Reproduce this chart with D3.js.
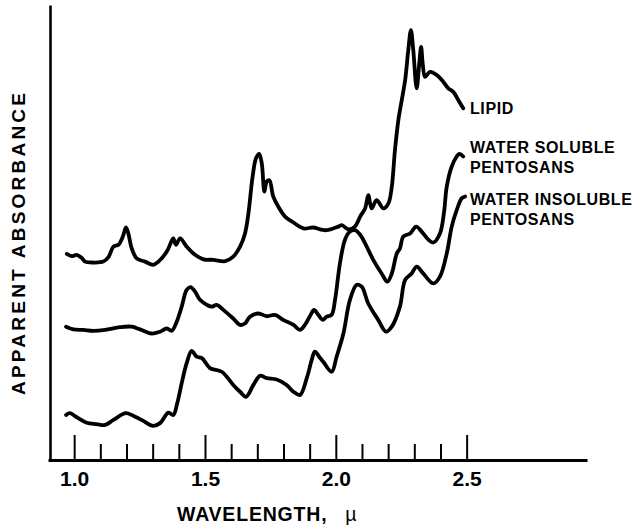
<!DOCTYPE html>
<html lang="en">
  <head>
    <meta charset="utf-8" />
    <title>Apparent absorbance</title>
    <style>
     body {
       margin: 0;
       background: #fff;
       font-family: "Liberation Sans", Arial, sans-serif;
     }
     .axis path, .axis line {
       stroke: #000;
     }
     .curve {
       fill: none;
       stroke: #000;
       stroke-width: 3.8;
       stroke-linejoin: round;
       stroke-linecap: round;
     }
     .lbl {
       font-weight: bold;
       fill: #000;
     }
    </style>
  </head>
  <body>
    <div id="chart"></div>

    <script src="https://d3js.org/d3.v7.min.js"></script>
    <script>

     // wavelength (micron) for each series, then apparent absorbance (arbitrary units)
     var lipid_w = [0.972, 0.991, 1.010, 1.029, 1.042, 1.073, 1.111, 1.131, 1.150, 1.169, 1.186, 1.198, 1.207, 1.220, 1.239, 1.271, 1.302, 1.322, 1.354, 1.373, 1.379, 1.389, 1.405, 1.430, 1.462, 1.494, 1.532, 1.577, 1.608, 1.634, 1.653, 1.666, 1.682, 1.695, 1.707, 1.717, 1.727, 1.736, 1.746, 1.761, 1.780, 1.806, 1.838, 1.876, 1.914, 1.940, 1.965, 2.010, 2.023, 2.048, 2.073, 2.093, 2.112, 2.124, 2.137, 2.156, 2.182, 2.201, 2.214, 2.226, 2.239, 2.252, 2.265, 2.277, 2.287, 2.296, 2.309, 2.319, 2.326, 2.332, 2.341, 2.360, 2.386, 2.411, 2.430, 2.449, 2.468, 2.487];
     var lipid_a = [0.453, 0.448, 0.451, 0.444, 0.436, 0.434, 0.436, 0.446, 0.469, 0.473, 0.491, 0.511, 0.498, 0.465, 0.443, 0.436, 0.429, 0.436, 0.458, 0.482, 0.487, 0.473, 0.487, 0.469, 0.451, 0.441, 0.440, 0.437, 0.447, 0.469, 0.498, 0.542, 0.623, 0.663, 0.673, 0.652, 0.590, 0.612, 0.615, 0.579, 0.557, 0.535, 0.522, 0.509, 0.511, 0.507, 0.505, 0.513, 0.516, 0.507, 0.513, 0.535, 0.553, 0.582, 0.553, 0.571, 0.553, 0.564, 0.601, 0.681, 0.747, 0.791, 0.835, 0.901, 0.945, 0.901, 0.817, 0.872, 0.908, 0.872, 0.842, 0.853, 0.846, 0.831, 0.817, 0.809, 0.791, 0.773];

     var soluble_w = [0.969, 0.997, 1.035, 1.073, 1.118, 1.175, 1.220, 1.252, 1.296, 1.328, 1.354, 1.373, 1.392, 1.411, 1.430, 1.445, 1.462, 1.481, 1.507, 1.526, 1.545, 1.570, 1.608, 1.634, 1.653, 1.672, 1.704, 1.736, 1.768, 1.799, 1.838, 1.863, 1.882, 1.901, 1.917, 1.933, 1.950, 1.965, 1.984, 1.997, 2.016, 2.035, 2.054, 2.073, 2.093, 2.118, 2.143, 2.175, 2.197, 2.214, 2.233, 2.245, 2.258, 2.284, 2.307, 2.328, 2.354, 2.373, 2.398, 2.413, 2.424, 2.443, 2.462, 2.472, 2.487];
     var soluble_a = [0.293, 0.287, 0.286, 0.284, 0.286, 0.292, 0.293, 0.287, 0.278, 0.282, 0.289, 0.284, 0.304, 0.337, 0.374, 0.380, 0.370, 0.352, 0.341, 0.337, 0.341, 0.330, 0.311, 0.297, 0.300, 0.315, 0.322, 0.316, 0.319, 0.308, 0.297, 0.286, 0.297, 0.316, 0.330, 0.319, 0.308, 0.315, 0.319, 0.352, 0.433, 0.484, 0.502, 0.505, 0.495, 0.469, 0.440, 0.410, 0.392, 0.410, 0.454, 0.465, 0.491, 0.498, 0.513, 0.502, 0.484, 0.478, 0.498, 0.542, 0.601, 0.645, 0.667, 0.673, 0.667];

     var insoluble_w = [0.969, 0.984, 1.010, 1.048, 1.086, 1.118, 1.150, 1.198, 1.233, 1.264, 1.302, 1.328, 1.360, 1.379, 1.394, 1.411, 1.430, 1.449, 1.468, 1.488, 1.519, 1.564, 1.608, 1.634, 1.657, 1.685, 1.710, 1.736, 1.774, 1.812, 1.838, 1.863, 1.889, 1.908, 1.920, 1.940, 1.952, 1.984, 2.003, 2.029, 2.054, 2.080, 2.099, 2.124, 2.162, 2.192, 2.214, 2.245, 2.265, 2.290, 2.309, 2.334, 2.373, 2.398, 2.424, 2.443, 2.462, 2.481, 2.494];
     var insoluble_a = [0.099, 0.103, 0.094, 0.082, 0.079, 0.077, 0.088, 0.103, 0.095, 0.086, 0.075, 0.081, 0.104, 0.099, 0.125, 0.169, 0.213, 0.240, 0.227, 0.224, 0.202, 0.194, 0.165, 0.150, 0.139, 0.165, 0.185, 0.180, 0.177, 0.165, 0.150, 0.143, 0.180, 0.220, 0.238, 0.224, 0.216, 0.194, 0.227, 0.278, 0.352, 0.385, 0.381, 0.344, 0.308, 0.282, 0.293, 0.337, 0.396, 0.410, 0.425, 0.410, 0.388, 0.403, 0.454, 0.513, 0.549, 0.575, 0.579];

     var series_names = [["LIPID"], ["WATER SOLUBLE", "PENTOSANS"], ["WATER INSOLUBLE", "PENTOSANS"]];
     var major_ticks = [1.0, 1.5, 2.0, 2.5];
     var minor_ticks = [1.1, 1.2, 1.3, 1.4, 1.6, 1.7, 1.8, 1.9, 2.1, 2.2, 2.3, 2.4];

     var width = 634, height = 528;

     var svg = d3.select("#chart")
                 .append("svg")
                 .attr("width", width)
                 .attr("height", height);

     var x = d3.scaleLinear().domain([0.9, 2.96]).range([48, 587]);
     var y = d3.scaleLinear().domain([0, 1]).range([460, 5]);

     // y axis: bare line
     svg.append("g")
        .attr("class", "axis")
        .attr("transform", "translate(50,0)")
        .call(d3.axisLeft(y).tickValues([]).tickSizeOuter(0))
        .select(".domain").attr("stroke-width", 2.6);

     // minor ticks
     svg.append("g")
        .attr("class", "axis")
        .attr("transform", "translate(0,460)")
        .call(d3.axisBottom(x).tickValues(minor_ticks).tickSize(-16).tickSizeOuter(0).tickFormat(""))
        .call(function(g) { g.select(".domain").remove(); })
        .selectAll("line").attr("stroke-width", 2);

     // major ticks with labels
     var xa = svg.append("g")
        .attr("class", "axis")
        .attr("transform", "translate(0,460)")
        .call(d3.axisBottom(x).tickValues(major_ticks).tickSize(-25).tickSizeOuter(0)
                .tickPadding(11).tickFormat(d3.format(".1f")));
     xa.select(".domain").attr("stroke-width", 3);
     xa.selectAll("line").attr("stroke-width", 2);
     xa.selectAll("text")
       .attr("font-family", "Liberation Sans, Arial, sans-serif")
       .attr("font-size", 21)
       .attr("font-weight", "bold")
       .attr("fill", "#000");

     var line = d3.line()
                  .x(function(d) { return x(d[0]); })
                  .y(function(d) { return y(d[1]); })
                  .curve(d3.curveCatmullRom.alpha(0.5));

     var series = [
       d3.zip(lipid_w, lipid_a),
       d3.zip(soluble_w, soluble_a),
       d3.zip(insoluble_w, insoluble_a)
     ];

     svg.selectAll(".curve")
        .data(series)
        .enter()
        .append("path")
        .attr("class", "curve")
        .attr("d", line);

     // series labels at the right end of each curve
     var label_y = [[114], [153, 173], [205, 225]];
     series_names.forEach(function(lines, i) {
       lines.forEach(function(txt, j) {
         svg.append("text")
            .attr("class", "lbl")
            .attr("x", 470)
            .attr("y", label_y[i][j])
            .attr("font-size", 16)
            .attr("letter-spacing", 0.6)
            .text(txt);
       });
     });

     // axis titles
     var xt = svg.append("text")
        .attr("class", "lbl")
        .attr("x", 177)
        .attr("y", 521)
        .attr("font-size", 19.5)
        .attr("letter-spacing", 0.8)
        .text("WAVELENGTH,");
     xt.append("tspan")
        .attr("dx", 18)
        .attr("font-weight", "normal")
        .text("\u00b5");

     svg.append("text")
        .attr("class", "lbl")
        .attr("transform", "translate(25,244) rotate(-90)")
        .attr("text-anchor", "middle")
        .attr("font-size", 19)
        .attr("textLength", 302)
        .attr("lengthAdjust", "spacing")
        .text("APPARENT ABSORBANCE");

    </script>
  </body>
</html>
